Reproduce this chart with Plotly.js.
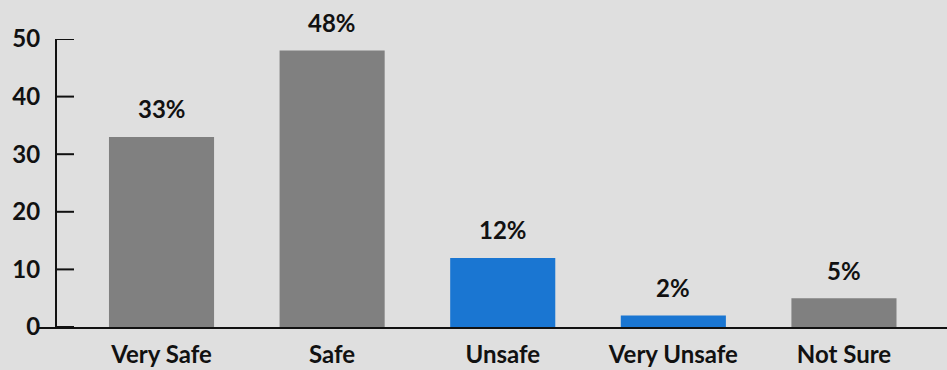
<!DOCTYPE html>
<html>
<head>
<meta charset="utf-8">
<script src="https://cdn.plot.ly/plotly-3.0.1.min.js"></script>
<style>html,body{margin:0;padding:0;background:#dfdfdf;}#chart{width:947px;height:370px;}</style>
</head>
<body>
<div id="chart"></div>
<script>
var categories = ["Very Safe", "Safe", "Unsafe", "Very Unsafe", "Not Sure"];
var values = [33, 48, 12, 2, 5];
var labels = ["33%", "48%", "12%", "2%", "5%"];
var barColors = ["#808080", "#808080", "#1a76d2", "#1a76d2", "#808080"];
var yTicks = [0, 10, 20, 30, 40, 50];

var FONT = "Lato, 'Open Sans', sans-serif";
var SIZE = 24;
var WEIGHT = 700;
var AXPOS = 0.0198;
var TICKEND = 0.0396;

var trace = {
  type: "bar",
  x: categories,
  y: values,
  marker: {color: barColors, line: {width: 0}},
  hoverinfo: "none"
};

var annotations = categories.map(function (c, i) {
  return {
    x: c, y: values[i], xref: "x", yref: "y",
    text: labels[i], showarrow: false,
    yanchor: "middle", yshift: 28,
    font: {family: FONT, size: SIZE, color: "#111", weight: WEIGHT}
  };
});

var shapes = yTicks.map(function (v) {
  return {
    type: "line", xref: "paper", yref: "y",
    x0: AXPOS, x1: TICKEND, y0: v, y1: v,
    line: {color: "#111", width: 2}
  };
});

var layout = {
  width: 947, height: 370,
  paper_bgcolor: "#dfdfdf", plot_bgcolor: "#dfdfdf",
  margin: {l: 38, r: 0, t: 39, b: 43, pad: 0},
  bargap: 0.384,
  showlegend: false,
  font: {family: FONT, size: SIZE, color: "#111", weight: WEIGHT},
  xaxis: {
    type: "category",
    range: [-0.724, 4.604],
    showline: true, linecolor: "#111", linewidth: 2,
    showgrid: false, zeroline: false, ticks: "",
    ticklabelstandoff: 5,
    tickfont: {family: FONT, size: SIZE, color: "#111", weight: WEIGHT}
  },
  yaxis: {
    range: [0, 50],
    anchor: "free", position: AXPOS,
    tickvals: yTicks, ticktext: yTicks.map(String),
    showline: true, linecolor: "#111", linewidth: 2,
    ticks: "",
    showgrid: false, zeroline: false,
    ticklabelstandoff: 10,
    tickfont: {family: FONT, size: SIZE, color: "#111", weight: WEIGHT}
  },
  shapes: shapes,
  annotations: annotations
};

Plotly.newPlot("chart", [trace], layout, {displayModeBar: false, staticPlot: true});
</script>
</body>
</html>
